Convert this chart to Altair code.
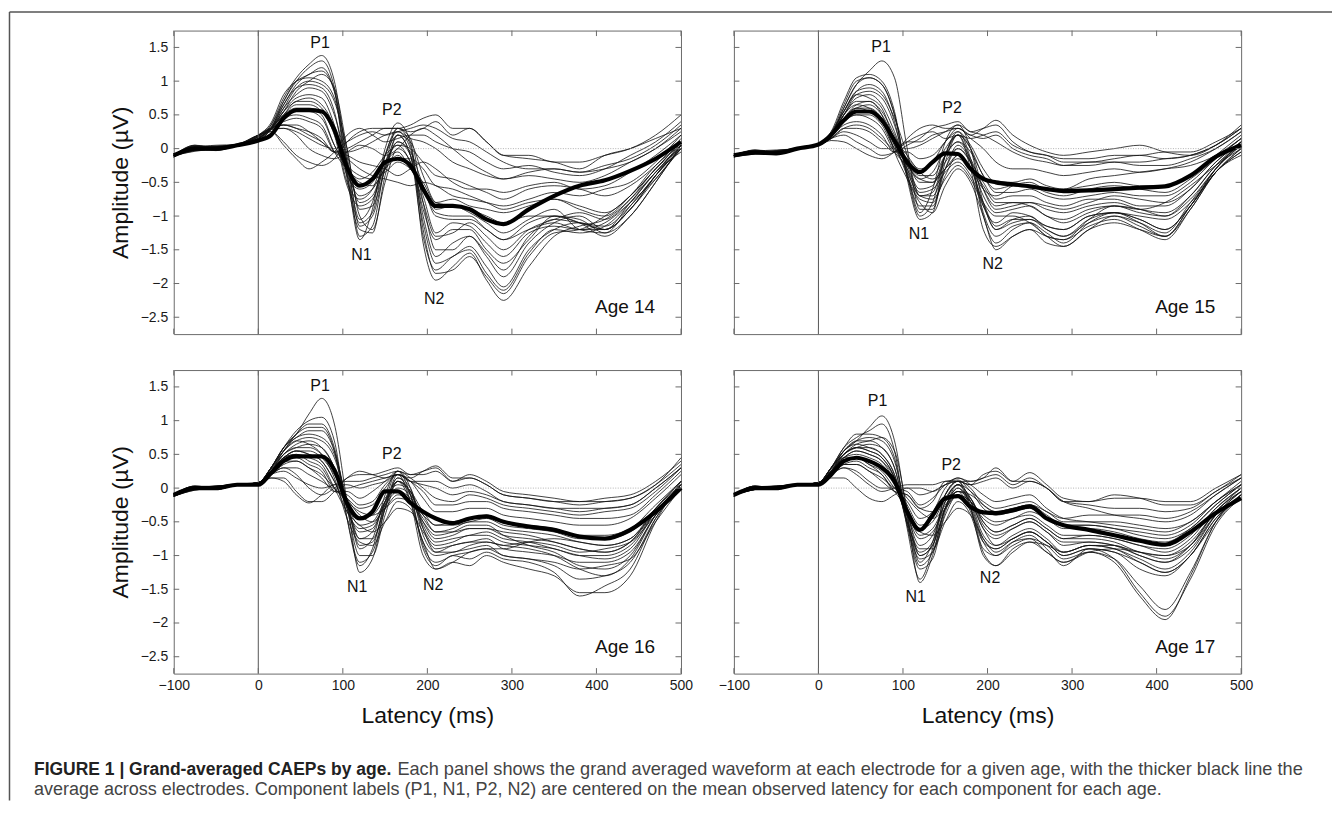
import altair as alt
import pandas as pd

# ---------------- data ----------------
latency_ms = [-100, -75, -50, -25, 0, 15, 30, 45, 60, 75, 90, 105, 120, 135, 150,
              165, 180, 195, 210, 230, 250, 270, 290, 320, 350, 380, 410, 440, 470, 500]

age14_electrodes = [
    [-0.12,0.03,-0.02,0.05,0.15,0.35,0.75,1.05,1.25,1.38,1.0,-0.2,-1.3,-1.15,-0.25,0.3,0.05,-1.4,-1.95,-1.75,-1.55,-1.95,-2.25,-1.75,-1.3,-1.15,-1.05,-0.75,-0.3,0.0],
    [-0.1,0.02,0.01,0.04,0.12,0.3,0.7,1.0,1.2,1.3,0.9,-0.35,-1.35,-0.9,0.0,0.38,0.1,-1.2,-1.85,-1.8,-1.6,-1.9,-2.15,-1.6,-1.25,-1.2,-1.0,-0.7,-0.25,0.05],
    [-0.08,-0.02,0.03,0.06,0.15,0.3,0.65,0.95,1.1,1.15,0.85,-0.1,-1.15,-1.0,-0.3,0.2,-0.1,-1.1,-1.7,-1.6,-1.45,-1.75,-2.05,-1.5,-1.2,-1.1,-1.2,-0.8,-0.35,-0.05],
    [-0.1,0.04,-0.01,0.05,0.18,0.35,0.7,1.0,1.05,1.0,0.75,-0.2,-1.05,-0.8,-0.1,0.3,0.15,-0.8,-1.5,-1.5,-1.3,-1.6,-1.9,-1.4,-1.1,-1.0,-1.2,-0.9,-0.4,0.1],
    [-0.12,0.0,0.02,0.05,0.12,0.3,0.6,0.9,1.0,0.95,0.7,0.0,-0.9,-0.85,-0.3,0.1,-0.1,-0.9,-1.35,-1.2,-1.2,-1.5,-1.7,-1.35,-1.0,-1.05,-1.25,-1.0,-0.5,0.05],
    [-0.1,0.05,0.0,0.05,0.15,0.3,0.6,0.8,0.9,0.85,0.5,-0.2,-0.8,-0.7,-0.2,0.05,-0.2,-0.7,-1.25,-1.1,-1.15,-1.4,-1.6,-1.25,-1.15,-1.2,-1.1,-0.8,-0.45,0.0],
    [-0.08,-0.03,-0.02,0.06,0.12,0.28,0.55,0.75,0.8,0.75,0.35,-0.35,-0.7,-0.6,-0.3,-0.1,-0.3,-0.6,-0.95,-1.0,-1.0,-1.2,-1.35,-1.1,-1.0,-1.1,-1.3,-1.0,-0.5,0.05],
    [-0.1,0.01,0.04,0.05,0.15,0.3,0.5,0.7,0.7,0.6,0.25,-0.4,-0.6,-0.5,-0.2,-0.05,-0.3,-0.55,-0.9,-0.85,-0.95,-1.1,-1.25,-1.05,-0.9,-1.2,-1.25,-0.85,-0.4,0.05],
    [-0.1,0.0,-0.03,0.05,0.15,0.3,0.5,0.6,0.6,0.5,0.05,-0.25,-0.4,-0.45,-0.35,-0.2,-0.3,-0.5,-0.8,-0.75,-0.85,-0.9,-0.95,-0.85,-0.75,-0.9,-1.0,-0.7,-0.3,0.1],
    [-0.12,0.03,0.0,0.05,0.18,0.3,0.4,0.45,0.4,0.3,-0.05,-0.15,-0.3,-0.4,-0.45,-0.5,-0.55,-0.5,-0.55,-0.7,-0.75,-0.8,-0.85,-0.75,-0.65,-0.7,-0.6,-0.5,-0.2,0.2],
    [-0.1,-0.02,0.02,0.05,0.2,0.3,0.35,0.3,0.2,0.1,-0.05,-0.1,-0.2,-0.25,-0.3,-0.4,-0.3,-0.2,-0.3,-0.5,-0.6,-0.6,-0.65,-0.55,-0.5,-0.6,-0.55,-0.35,-0.1,0.2],
    [-0.1,0.02,0.05,0.06,0.2,0.3,0.35,0.35,0.25,0.1,-0.05,0.0,0.1,0.2,0.3,0.3,0.35,0.45,0.5,0.3,0.3,0.1,-0.1,-0.15,-0.2,-0.3,-0.1,0.0,0.15,0.3],
    [-0.1,-0.04,0.0,0.05,0.2,0.25,0.1,-0.1,-0.2,-0.25,-0.15,0.1,0.25,0.3,0.3,0.3,0.25,0.3,0.4,0.2,0.3,0.1,-0.1,-0.1,-0.2,-0.2,-0.1,0.0,0.2,0.5],
    [-0.1,0.0,-0.02,0.05,0.2,0.25,0.05,-0.15,-0.3,-0.2,-0.05,0.2,0.3,0.2,0.1,0.15,0.2,0.2,0.1,0.0,-0.05,-0.2,-0.3,-0.25,-0.35,-0.4,-0.3,-0.1,0.1,0.4],
    [-0.1,0.04,0.02,0.05,0.18,0.28,0.3,0.2,0.0,-0.1,-0.15,-0.05,0.05,0.0,-0.1,0.0,0.2,0.3,0.2,0.0,-0.2,-0.35,-0.45,-0.4,-0.45,-0.5,-0.4,-0.2,0.0,0.3],
    [-0.12,-0.01,0.01,0.05,0.15,0.3,0.55,0.7,0.75,0.65,0.3,-0.5,-0.75,-0.6,-0.1,0.2,0.1,-0.4,-0.8,-0.85,-0.9,-1.0,-1.1,-1.0,-1.0,-1.1,-1.2,-0.9,-0.4,0.0],
    [-0.13,0.05,0.02,0.07,0.2,0.38,0.8,1.0,1.1,1.2,0.85,-0.45,-1.2,-1.25,-0.4,0.2,-0.1,-1.3,-1.8,-1.6,-1.5,-1.85,-2.1,-1.55,-1.2,-1.25,-1.15,-0.8,-0.35,0.05],
    [-0.09,0.0,-0.01,0.04,0.13,0.32,0.65,0.9,0.95,0.9,0.55,-0.4,-1.1,-0.95,-0.1,0.25,0.0,-1.0,-1.6,-1.4,-1.3,-1.55,-1.8,-1.3,-1.05,-1.1,-1.15,-0.85,-0.4,0.0],
    [-0.11,-0.03,0.02,0.05,0.16,0.3,0.55,0.85,1.0,1.1,0.9,0.0,-1.0,-1.2,-0.5,0.0,-0.2,-0.8,-1.3,-1.25,-1.1,-1.3,-1.5,-1.2,-1.05,-0.95,-1.05,-0.75,-0.35,0.05],
    [-0.1,0.02,-0.02,0.05,0.14,0.3,0.5,0.65,0.65,0.55,0.2,-0.55,-0.85,-0.75,-0.25,0.1,-0.05,-0.55,-1.0,-1.05,-1.05,-1.2,-1.35,-1.2,-1.1,-1.2,-1.2,-0.9,-0.45,0.0],
    [-0.12,0.01,0.03,0.05,0.17,0.28,0.45,0.5,0.45,0.35,-0.05,-0.3,-0.45,-0.35,-0.1,0.05,0.0,-0.2,-0.4,-0.45,-0.55,-0.65,-0.75,-0.6,-0.55,-0.6,-0.7,-0.55,-0.25,0.15],
    [-0.1,-0.02,0.0,0.06,0.2,0.3,0.3,0.25,0.15,0.05,0.0,0.1,0.2,0.25,0.2,0.25,0.3,0.35,0.3,0.15,0.1,-0.05,-0.2,-0.3,-0.3,-0.35,-0.25,-0.15,0.05,0.35],
    [-0.1,0.03,0.01,0.05,0.15,0.3,0.45,0.55,0.55,0.45,0.05,-0.3,-0.5,-0.55,-0.3,-0.15,-0.15,-0.3,-0.55,-0.6,-0.7,-0.8,-0.9,-0.8,-0.75,-0.85,-0.95,-0.7,-0.3,0.1],
    [-0.1,0.0,0.03,0.05,0.18,0.3,0.35,0.3,0.25,0.15,-0.05,-0.05,0.0,0.1,0.2,0.25,0.15,0.1,0.0,-0.2,-0.3,-0.4,-0.45,-0.35,-0.3,-0.35,-0.3,-0.2,0.0,0.25],
]
age14_mean = [-0.1,0.0,0.0,0.05,0.12,0.2,0.45,0.57,0.57,0.55,0.28,-0.28,-0.55,-0.45,-0.2,-0.15,-0.25,-0.6,-0.85,-0.85,-0.9,-1.05,-1.12,-0.9,-0.7,-0.55,-0.47,-0.33,-0.15,0.1]

age15_electrodes = [
    [-0.1,-0.03,-0.08,0.0,0.05,0.2,0.6,0.95,1.15,1.3,1.05,0.0,-0.9,-0.9,-0.1,0.2,-0.3,-1.2,-1.45,-1.3,-1.2,-1.4,-1.45,-1.2,-1.0,-1.1,-1.25,-0.8,-0.3,0.1],
    [-0.12,-0.07,-0.04,0.0,0.06,0.25,0.7,1.05,1.1,1.0,0.55,-0.45,-1.05,-0.95,-0.2,0.2,-0.2,-1.0,-1.4,-1.2,-1.1,-1.3,-1.35,-1.15,-1.05,-1.2,-1.35,-0.9,-0.35,0.0],
    [-0.1,-0.04,-0.07,0.0,0.05,0.2,0.6,0.95,1.05,0.95,0.5,-0.35,-0.95,-0.6,0.1,0.35,0.0,-0.8,-1.2,-1.05,-1.0,-1.2,-1.3,-1.05,-0.95,-1.1,-1.3,-0.85,-0.3,0.1],
    [-0.08,-0.06,-0.03,0.0,0.05,0.25,0.55,0.85,0.95,0.85,0.4,-0.4,-0.85,-0.85,-0.3,0.05,-0.2,-0.85,-1.1,-0.95,-1.0,-1.15,-1.2,-1.0,-0.95,-1.0,-1.05,-0.8,-0.35,0.0],
    [-0.1,-0.03,-0.06,0.0,0.05,0.2,0.5,0.8,0.85,0.75,0.35,-0.3,-0.7,-0.7,-0.3,0.0,-0.2,-0.7,-0.95,-0.9,-0.85,-1.0,-1.05,-0.9,-0.85,-0.95,-1.0,-0.75,-0.3,0.05],
    [-0.12,-0.08,-0.05,0.0,0.06,0.2,0.5,0.75,0.8,0.65,0.25,-0.25,-0.6,-0.55,-0.1,0.1,-0.15,-0.6,-0.85,-0.8,-0.8,-0.9,-0.95,-0.85,-0.8,-0.9,-0.95,-0.7,-0.25,0.1],
    [-0.1,-0.05,-0.08,0.0,0.05,0.2,0.45,0.65,0.7,0.55,0.2,-0.2,-0.5,-0.5,-0.2,0.0,-0.2,-0.5,-0.75,-0.7,-0.7,-0.8,-0.85,-0.75,-0.75,-0.85,-0.85,-0.6,-0.2,0.1],
    [-0.1,-0.02,-0.04,0.0,0.05,0.2,0.45,0.6,0.6,0.45,0.1,-0.2,-0.4,-0.4,-0.1,0.1,-0.05,-0.4,-0.65,-0.65,-0.6,-0.7,-0.75,-0.7,-0.65,-0.7,-0.7,-0.5,-0.15,0.15],
    [-0.1,-0.06,-0.06,0.0,0.05,0.18,0.4,0.5,0.5,0.35,0.0,-0.15,-0.3,-0.2,0.1,0.25,0.05,-0.3,-0.5,-0.5,-0.45,-0.55,-0.6,-0.55,-0.5,-0.55,-0.55,-0.4,-0.1,0.2],
    [-0.1,-0.04,-0.02,0.0,0.05,0.18,0.35,0.4,0.35,0.2,-0.05,-0.05,-0.15,-0.1,0.1,0.3,0.15,0.0,-0.2,-0.3,-0.3,-0.35,-0.4,-0.35,-0.3,-0.35,-0.3,-0.2,0.0,0.25],
    [-0.12,-0.05,-0.07,0.0,0.05,0.15,0.3,0.3,0.25,0.1,-0.05,0.05,0.15,0.3,0.35,0.4,0.25,0.3,0.35,0.1,-0.05,-0.1,-0.15,-0.15,-0.1,-0.1,-0.05,-0.05,0.1,0.3],
    [-0.1,-0.07,-0.03,0.0,0.05,0.15,0.2,0.1,0.0,-0.1,-0.05,0.15,0.3,0.35,0.3,0.3,0.2,0.3,0.42,0.2,0.05,-0.05,-0.1,-0.05,0.0,0.05,-0.05,-0.1,0.05,0.35],
    [-0.1,-0.03,-0.05,0.0,0.05,0.12,0.1,0.0,-0.1,-0.15,-0.05,0.1,0.2,0.25,0.15,0.2,0.15,0.2,0.25,0.05,-0.05,-0.1,-0.2,-0.2,-0.15,-0.1,-0.15,-0.1,0.05,0.3],
    [-0.1,-0.06,-0.04,0.0,0.05,0.2,0.4,0.55,0.55,0.4,0.0,-0.3,-0.65,-0.6,-0.35,-0.2,-0.4,-0.8,-1.0,-1.0,-1.1,-1.3,-1.45,-1.2,-1.1,-1.2,-1.3,-0.9,-0.35,-0.1],
    [-0.12,-0.04,-0.06,0.0,0.06,0.2,0.5,0.7,0.7,0.5,-0.05,-0.45,-0.8,-0.95,-0.55,-0.3,-0.5,-1.0,-1.5,-1.3,-1.2,-1.3,-1.35,-1.05,-0.85,-0.9,-0.8,-0.55,-0.25,0.0],
    [-0.1,-0.05,-0.05,0.0,0.05,0.2,0.45,0.6,0.65,0.5,0.15,-0.1,-0.35,-0.45,-0.3,-0.1,-0.3,-0.6,-0.7,-0.55,-0.5,-0.6,-0.6,-0.45,-0.4,-0.35,-0.3,-0.25,-0.1,0.15],
    [-0.13,-0.02,-0.07,0.0,0.05,0.22,0.65,1.0,1.05,0.95,0.5,-0.4,-1.0,-0.8,-0.1,0.25,-0.15,-0.95,-1.3,-1.15,-1.1,-1.25,-1.4,-1.1,-0.95,-1.05,-1.2,-0.85,-0.3,0.05],
    [-0.1,-0.06,-0.04,0.01,0.06,0.22,0.55,0.8,0.75,0.6,0.1,-0.4,-0.75,-0.8,-0.4,-0.1,-0.3,-0.8,-1.15,-1.05,-1.05,-1.2,-1.3,-1.1,-1.0,-1.15,-1.3,-0.85,-0.35,-0.05],
    [-0.1,-0.05,-0.06,0.0,0.05,0.2,0.45,0.6,0.55,0.4,0.05,-0.25,-0.45,-0.35,0.0,0.2,0.0,-0.4,-0.6,-0.55,-0.55,-0.65,-0.7,-0.6,-0.55,-0.6,-0.65,-0.45,-0.15,0.15],
    [-0.11,-0.04,-0.05,0.0,0.05,0.15,0.3,0.35,0.3,0.15,0.0,0.0,0.05,0.15,0.25,0.35,0.25,0.2,0.1,-0.05,-0.15,-0.2,-0.25,-0.2,-0.2,-0.2,-0.15,-0.1,0.05,0.3],
    [-0.1,-0.07,-0.05,0.0,0.05,0.18,0.4,0.5,0.45,0.3,-0.05,-0.25,-0.45,-0.5,-0.3,-0.15,-0.3,-0.55,-0.8,-0.8,-0.85,-1.0,-1.1,-0.95,-0.85,-0.9,-1.0,-0.7,-0.25,0.05],
    [-0.1,-0.03,-0.06,0.0,0.05,0.2,0.55,0.85,0.9,0.8,0.45,-0.1,-0.7,-0.65,-0.1,0.2,0.0,-0.6,-0.9,-0.85,-0.8,-0.85,-0.9,-0.8,-0.7,-0.75,-0.8,-0.6,-0.2,0.1],
    [-0.12,-0.06,-0.04,0.0,0.05,0.15,0.25,0.2,0.1,0.0,0.0,0.1,0.1,0.2,0.25,0.3,0.2,0.15,0.2,0.0,-0.1,-0.15,-0.25,-0.25,-0.2,-0.25,-0.25,-0.15,0.0,0.25],
    [-0.1,-0.04,-0.07,0.0,0.05,0.2,0.5,0.65,0.6,0.45,0.05,-0.35,-0.7,-0.75,-0.45,-0.25,-0.45,-0.85,-1.2,-1.1,-1.05,-1.15,-1.2,-1.0,-0.95,-1.05,-1.2,-0.85,-0.35,-0.05],
]
age15_mean = [-0.1,-0.06,-0.07,0.0,0.06,0.2,0.42,0.55,0.55,0.42,0.12,-0.2,-0.35,-0.2,-0.07,-0.08,-0.3,-0.45,-0.5,-0.53,-0.56,-0.6,-0.63,-0.62,-0.6,-0.58,-0.56,-0.4,-0.12,0.05]

age16_electrodes = [
    [-0.12,0.02,-0.02,0.05,0.08,0.3,0.6,0.8,1.1,1.33,0.95,-0.2,-1.25,-1.05,-0.3,0.2,-0.2,-1.0,-1.2,-1.1,-1.15,-1.0,-1.1,-1.2,-1.3,-1.55,-1.55,-1.3,-0.5,0.1],
    [-0.1,-0.01,0.02,0.06,0.08,0.3,0.6,0.85,1.0,1.05,0.7,-0.45,-1.15,-0.9,-0.2,0.25,-0.1,-0.9,-1.15,-1.0,-1.05,-0.95,-1.05,-1.1,-1.25,-1.6,-1.45,-1.2,-0.45,0.05],
    [-0.12,0.03,0.0,0.05,0.06,0.25,0.55,0.8,0.95,0.95,0.6,-0.3,-1.0,-1.0,-0.4,0.1,-0.2,-0.8,-1.0,-0.95,-0.9,-0.85,-1.0,-1.05,-1.1,-1.2,-1.15,-1.05,-0.5,0.0],
    [-0.1,0.0,0.03,0.05,0.08,0.3,0.6,0.75,0.85,0.85,0.55,-0.2,-0.9,-0.75,-0.1,0.25,0.0,-0.7,-0.95,-0.85,-0.8,-0.75,-0.9,-0.95,-1.0,-1.1,-1.1,-0.95,-0.4,0.05],
    [-0.12,-0.02,0.01,0.05,0.06,0.3,0.55,0.7,0.75,0.7,0.45,-0.2,-0.75,-0.75,-0.3,0.1,-0.1,-0.6,-0.85,-0.8,-0.7,-0.7,-0.8,-0.85,-0.9,-1.0,-1.0,-0.85,-0.35,0.05],
    [-0.1,0.02,-0.01,0.05,0.08,0.25,0.5,0.65,0.7,0.6,0.3,-0.3,-0.65,-0.6,-0.2,0.1,-0.05,-0.5,-0.75,-0.7,-0.6,-0.6,-0.7,-0.75,-0.8,-0.9,-0.95,-0.8,-0.3,0.1],
    [-0.1,0.0,0.02,0.05,0.06,0.25,0.5,0.6,0.6,0.5,0.25,-0.25,-0.55,-0.5,-0.2,0.0,-0.1,-0.4,-0.65,-0.6,-0.5,-0.5,-0.6,-0.65,-0.7,-0.8,-0.85,-0.75,-0.3,0.05],
    [-0.12,-0.03,0.0,0.05,0.08,0.25,0.45,0.55,0.5,0.4,0.1,-0.25,-0.45,-0.4,-0.15,0.05,-0.05,-0.35,-0.55,-0.5,-0.45,-0.4,-0.5,-0.55,-0.6,-0.7,-0.7,-0.6,-0.25,0.1],
    [-0.1,0.02,0.03,0.05,0.06,0.25,0.45,0.5,0.4,0.3,0.0,-0.15,-0.3,-0.25,0.0,0.2,0.1,-0.15,-0.35,-0.35,-0.3,-0.3,-0.4,-0.45,-0.5,-0.55,-0.55,-0.45,-0.15,0.2],
    [-0.1,0.01,-0.02,0.05,0.08,0.2,0.35,0.4,0.3,0.15,-0.05,-0.05,-0.15,-0.05,0.1,0.25,0.15,0.0,-0.15,-0.2,-0.1,-0.15,-0.25,-0.3,-0.35,-0.4,-0.35,-0.3,-0.05,0.3],
    [-0.12,-0.02,0.01,0.05,0.08,0.2,0.3,0.2,0.0,-0.1,0.0,0.15,0.2,0.2,0.25,0.3,0.2,0.25,0.3,0.1,0.2,0.1,-0.05,-0.1,-0.15,-0.2,-0.15,-0.1,0.1,0.4],
    [-0.1,0.03,0.02,0.05,0.06,0.15,0.15,-0.05,-0.2,-0.2,-0.05,0.15,0.25,0.2,0.15,0.2,0.15,0.25,0.33,0.15,0.15,0.05,-0.1,-0.15,-0.2,-0.25,-0.2,-0.15,0.05,0.45],
    [-0.1,0.0,-0.02,0.05,0.08,0.15,0.1,-0.1,-0.22,-0.1,0.05,0.05,0.0,0.05,0.1,0.2,0.1,0.1,0.1,0.0,0.05,-0.05,-0.2,-0.25,-0.3,-0.3,-0.3,-0.25,0.0,0.3],
    [-0.12,-0.01,0.02,0.05,0.06,0.25,0.45,0.5,0.45,0.35,0.0,-0.35,-0.55,-0.65,-0.5,-0.3,-0.35,-0.65,-0.9,-0.85,-0.8,-0.8,-0.85,-0.8,-0.85,-0.95,-0.9,-0.8,-0.4,0.0],
    [-0.1,0.02,0.0,0.05,0.08,0.3,0.55,0.7,0.65,0.5,0.15,-0.45,-0.8,-0.85,-0.5,-0.2,-0.3,-0.8,-1.2,-1.1,-0.95,-0.9,-0.9,-0.8,-0.75,-0.8,-0.85,-0.75,-0.35,0.0],
    [-0.1,-0.02,0.03,0.05,0.06,0.25,0.45,0.55,0.55,0.45,0.2,-0.15,-0.4,-0.5,-0.3,-0.1,-0.2,-0.5,-0.7,-0.65,-0.55,-0.55,-0.7,-0.85,-0.95,-1.15,-1.2,-1.0,-0.4,0.0],
    [-0.12,0.01,-0.01,0.05,0.08,0.3,0.6,0.8,0.9,0.9,0.55,-0.45,-1.1,-0.95,-0.3,0.15,-0.1,-0.85,-1.1,-1.0,-0.95,-0.9,-1.0,-1.05,-1.15,-1.35,-1.3,-1.1,-0.45,0.05],
    [-0.1,0.03,0.01,0.05,0.07,0.28,0.5,0.6,0.65,0.6,0.3,-0.3,-0.75,-0.65,-0.2,0.1,-0.05,-0.55,-0.8,-0.75,-0.7,-0.65,-0.75,-0.8,-0.9,-1.0,-1.05,-0.9,-0.35,0.05],
    [-0.12,-0.01,0.02,0.05,0.08,0.22,0.4,0.45,0.35,0.25,-0.05,-0.1,-0.25,-0.2,0.05,0.2,0.1,-0.05,-0.25,-0.25,-0.2,-0.2,-0.3,-0.35,-0.4,-0.45,-0.45,-0.4,-0.1,0.25],
    [-0.1,0.02,-0.02,0.05,0.07,0.2,0.25,0.15,0.05,0.0,0.05,0.1,0.1,0.15,0.2,0.25,0.2,0.2,0.25,0.1,0.15,0.05,-0.1,-0.15,-0.2,-0.2,-0.2,-0.15,0.05,0.35],
    [-0.1,0.0,0.03,0.05,0.08,0.25,0.45,0.55,0.5,0.4,0.1,-0.35,-0.6,-0.55,-0.25,-0.05,-0.15,-0.45,-0.65,-0.65,-0.6,-0.6,-0.65,-0.7,-0.8,-0.9,-0.95,-0.8,-0.35,0.05],
    [-0.12,-0.03,0.0,0.05,0.06,0.28,0.55,0.75,0.8,0.75,0.5,-0.2,-0.85,-0.8,-0.25,0.15,0.0,-0.6,-0.95,-0.95,-0.85,-0.8,-0.85,-0.9,-1.0,-1.2,-1.3,-1.05,-0.4,0.05],
    [-0.1,0.02,0.01,0.05,0.08,0.25,0.4,0.4,0.3,0.2,0.0,-0.2,-0.35,-0.4,-0.3,-0.15,-0.2,-0.4,-0.55,-0.55,-0.5,-0.45,-0.55,-0.6,-0.65,-0.75,-0.75,-0.65,-0.3,0.1],
    [-0.1,0.0,-0.01,0.05,0.06,0.2,0.3,0.3,0.2,0.1,0.0,0.0,0.05,0.1,0.15,0.2,0.1,0.05,0.0,-0.1,-0.05,-0.1,-0.2,-0.25,-0.3,-0.35,-0.3,-0.25,0.0,0.3],
]
age16_mean = [-0.1,0.0,0.0,0.05,0.05,0.22,0.4,0.47,0.47,0.47,0.27,-0.22,-0.45,-0.35,-0.05,-0.05,-0.22,-0.35,-0.45,-0.52,-0.45,-0.42,-0.5,-0.57,-0.62,-0.72,-0.75,-0.62,-0.35,0.0]

age17_electrodes = [
    [-0.12,0.02,-0.01,0.05,0.08,0.3,0.55,0.7,0.9,1.07,0.7,-0.4,-1.4,-1.0,-0.3,0.0,-0.3,-0.9,-1.0,-0.8,-0.7,-0.9,-1.15,-0.9,-0.95,-1.2,-1.3,-1.0,-0.5,-0.1],
    [-0.1,-0.01,0.03,0.05,0.08,0.3,0.6,0.75,0.85,0.95,0.55,-0.6,-1.35,-0.9,-0.1,0.1,-0.3,-1.0,-1.15,-0.9,-0.8,-0.95,-1.1,-0.95,-1.1,-1.6,-1.95,-1.3,-0.5,-0.1],
    [-0.12,0.03,0.0,0.05,0.08,0.3,0.6,0.8,0.8,0.75,0.45,-0.55,-1.2,-1.05,-0.35,-0.05,-0.35,-0.8,-0.9,-0.75,-0.65,-0.8,-1.0,-0.9,-1.05,-1.55,-1.9,-1.35,-0.55,-0.15],
    [-0.1,0.0,0.02,0.05,0.06,0.25,0.55,0.7,0.75,0.7,0.4,-0.4,-1.1,-0.8,-0.1,0.1,-0.2,-0.7,-0.85,-0.7,-0.6,-0.75,-0.95,-0.85,-0.9,-1.05,-1.2,-0.95,-0.4,-0.05],
    [-0.1,-0.02,0.01,0.05,0.08,0.3,0.5,0.6,0.65,0.6,0.3,-0.45,-1.0,-0.85,-0.3,0.0,-0.2,-0.6,-0.75,-0.6,-0.5,-0.65,-0.85,-0.8,-0.85,-1.0,-1.1,-0.85,-0.35,-0.05],
    [-0.12,0.03,-0.02,0.05,0.06,0.25,0.5,0.6,0.6,0.5,0.2,-0.4,-0.85,-0.7,-0.2,0.05,-0.15,-0.5,-0.65,-0.55,-0.45,-0.6,-0.75,-0.75,-0.8,-0.95,-1.0,-0.8,-0.35,0.0],
    [-0.1,0.01,0.03,0.05,0.08,0.25,0.45,0.55,0.5,0.4,0.15,-0.4,-0.75,-0.65,-0.3,-0.1,-0.2,-0.45,-0.55,-0.45,-0.4,-0.55,-0.7,-0.7,-0.75,-0.85,-0.9,-0.7,-0.3,0.0],
    [-0.1,-0.02,0.0,0.05,0.06,0.25,0.45,0.5,0.45,0.35,0.1,-0.3,-0.6,-0.5,-0.15,0.05,-0.05,-0.3,-0.4,-0.35,-0.3,-0.45,-0.6,-0.6,-0.65,-0.75,-0.8,-0.6,-0.25,0.05],
    [-0.12,0.02,0.02,0.05,0.08,0.2,0.4,0.45,0.35,0.25,0.0,-0.2,-0.45,-0.35,0.0,0.15,0.05,-0.1,-0.2,-0.15,-0.1,-0.3,-0.45,-0.5,-0.55,-0.6,-0.65,-0.5,-0.2,0.1],
    [-0.1,0.0,-0.01,0.05,0.06,0.2,0.35,0.35,0.25,0.15,0.0,-0.05,-0.25,-0.15,0.05,0.15,0.1,0.15,0.3,0.1,0.1,0.0,-0.2,-0.3,-0.4,-0.45,-0.5,-0.4,-0.1,0.15],
    [-0.1,-0.01,0.02,0.05,0.08,0.2,0.3,0.2,0.05,-0.05,0.0,0.05,0.05,0.05,0.1,0.1,0.05,0.2,0.25,0.1,0.23,0.05,-0.15,-0.2,-0.15,-0.15,-0.2,-0.2,0.0,0.2],
    [-0.12,0.02,0.0,0.05,0.06,0.15,0.15,0.0,-0.15,-0.2,-0.1,0.0,0.0,-0.05,0.05,0.1,0.05,0.1,0.15,0.0,0.1,0.0,-0.2,-0.2,-0.1,-0.15,-0.25,-0.25,-0.05,0.2],
    [-0.1,0.0,0.03,0.05,0.08,0.25,0.45,0.45,0.35,0.2,-0.05,-0.3,-0.65,-0.7,-0.5,-0.3,-0.4,-0.75,-0.95,-0.8,-0.75,-0.95,-1.1,-0.95,-0.9,-0.95,-1.0,-0.85,-0.4,-0.1],
    [-0.1,-0.02,0.01,0.05,0.06,0.3,0.5,0.6,0.55,0.45,0.15,-0.5,-0.9,-0.9,-0.5,-0.2,-0.4,-0.95,-1.15,-0.95,-0.8,-0.85,-0.95,-0.85,-0.9,-1.1,-1.25,-1.0,-0.45,-0.15],
    [-0.12,0.03,-0.01,0.05,0.08,0.25,0.4,0.45,0.4,0.3,0.1,-0.15,-0.35,-0.45,-0.3,-0.1,-0.2,-0.4,-0.5,-0.45,-0.35,-0.45,-0.55,-0.55,-0.6,-0.65,-0.7,-0.55,-0.2,0.05],
    [-0.1,0.01,0.02,0.05,0.06,0.2,0.35,0.4,0.3,0.2,-0.05,-0.1,-0.3,-0.2,0.1,0.12,-0.05,-0.2,-0.3,-0.25,-0.2,-0.35,-0.45,-0.4,-0.4,-0.4,-0.45,-0.35,-0.1,0.15],
    [-0.12,-0.01,0.0,0.05,0.08,0.3,0.55,0.7,0.7,0.6,0.3,-0.5,-1.15,-0.95,-0.3,0.05,-0.25,-0.75,-0.9,-0.75,-0.65,-0.8,-1.0,-0.9,-0.95,-1.1,-1.25,-1.0,-0.45,-0.1],
    [-0.1,0.02,0.03,0.05,0.07,0.28,0.5,0.6,0.55,0.45,0.15,-0.5,-0.95,-0.8,-0.2,0.05,-0.15,-0.55,-0.7,-0.6,-0.5,-0.65,-0.8,-0.8,-0.85,-0.95,-1.05,-0.85,-0.35,-0.05],
    [-0.12,0.0,-0.02,0.05,0.08,0.22,0.4,0.45,0.4,0.3,0.05,-0.25,-0.55,-0.45,-0.1,0.1,0.0,-0.25,-0.35,-0.3,-0.25,-0.4,-0.55,-0.55,-0.6,-0.7,-0.75,-0.6,-0.25,0.05],
    [-0.1,0.03,0.01,0.05,0.07,0.2,0.3,0.25,0.1,0.0,0.0,0.0,-0.1,-0.05,0.05,0.1,0.1,0.15,0.2,0.05,0.15,0.0,-0.2,-0.25,-0.3,-0.3,-0.35,-0.3,-0.05,0.15],
    [-0.1,-0.02,0.02,0.05,0.08,0.3,0.55,0.65,0.6,0.5,0.2,-0.55,-1.05,-0.95,-0.4,-0.1,-0.3,-0.8,-1.0,-0.85,-0.75,-0.85,-1.05,-0.95,-1.05,-1.45,-1.8,-1.25,-0.5,-0.1],
    [-0.12,0.01,-0.01,0.05,0.06,0.25,0.45,0.55,0.5,0.4,0.1,-0.35,-0.7,-0.6,-0.25,-0.05,-0.15,-0.5,-0.65,-0.55,-0.45,-0.6,-0.75,-0.7,-0.75,-0.85,-0.95,-0.75,-0.3,0.0],
    [-0.1,0.0,0.02,0.05,0.08,0.2,0.35,0.35,0.25,0.1,-0.05,-0.1,-0.3,-0.35,-0.2,-0.05,-0.1,-0.25,-0.35,-0.3,-0.25,-0.35,-0.5,-0.5,-0.5,-0.55,-0.6,-0.5,-0.2,0.05],
    [-0.1,0.02,0.0,0.05,0.06,0.25,0.5,0.65,0.7,0.75,0.55,-0.3,-1.0,-0.85,-0.3,-0.05,-0.2,-0.6,-0.85,-0.75,-0.65,-0.8,-0.95,-0.85,-0.85,-1.0,-1.1,-0.9,-0.4,-0.05],
]
age17_mean = [-0.1,0.0,0.0,0.05,0.05,0.2,0.4,0.45,0.4,0.3,0.1,-0.35,-0.62,-0.4,-0.15,-0.12,-0.28,-0.36,-0.37,-0.33,-0.27,-0.45,-0.55,-0.62,-0.7,-0.78,-0.84,-0.65,-0.37,-0.15]

components = ["P1", "N1", "P2", "N2"]
age14_comp_latency = [73, 122, 158, 208]
age14_comp_amp = [1.57, -1.58, 0.57, -2.23]
age15_comp_latency = [74, 119, 158, 206]
age15_comp_amp = [1.51, -1.26, 0.60, -1.71]
age16_comp_latency = [73, 117, 158, 207]
age16_comp_amp = [1.52, -1.47, 0.50, -1.44]
age17_comp_latency = [70, 115, 157, 203]
age17_comp_amp = [1.29, -1.61, 0.34, -1.33]

x_tick_values = [-100, 0, 100, 200, 300, 400, 500]
y_tick_values = [-2.5, -2, -1.5, -1, -0.5, 0, 0.5, 1, 1.5]

caption_bold = "FIGURE 1 | Grand-averaged CAEPs by age."
caption_line1 = ("Each panel shows the grand averaged waveform at each electrode for a given age, "
                 "with the thicker black line the")
caption_line2 = ("average across electrodes. Component labels (P1, N1, P2, N2) are centered on the "
                 "mean observed latency for each component for each age.")

# ---------------- chart ----------------
FONT = "Liberation Sans"
W, H = 508, 304
XD = [-100, 500]
YD = [-2.75, 1.75]
TICK = 5.5
FRAME = "#6a6a6a"


def make_panel(age, elecs, mean, comp_lat, comp_amp, left, bottom, extras=()):
    for s in elecs + [mean]:
        assert len(s) == len(latency_ms)
    rows = []
    for i, series in enumerate(elecs):
        for t, v in zip(latency_ms, series):
            rows.append({"electrode": i, "t": t, "v": v})
    edf = pd.DataFrame(rows)
    mdf = pd.DataFrame({"t": latency_ms, "v": mean})
    cdf = pd.DataFrame({"t": comp_lat, "v": comp_amp, "label": components})
    xt = pd.DataFrame({"t": x_tick_values})
    yt = pd.DataFrame({"v": y_tick_values})
    adf = pd.DataFrame({"label": [f"Age {age}"]})
    # zero reference: y = 0 from stimulus onset to the end of the epoch
    zdf = pd.DataFrame({"t": [0], "t2": [XD[1]], "v": [0]})

    if bottom:
        xaxis = alt.Axis(values=x_tick_values, format="d", ticks=False, domain=False, grid=False,
                         labelFlush=False, labelFont=FONT, labelFontSize=14, labelColor="#1a1a1a",
                         labelPadding=5, title="Latency (ms)", titleFont=FONT, titleFontSize=23,
                         titleFontWeight="normal", titleColor="#111", titlePadding=12)
    else:
        xaxis = None
    if left:
        yaxis = alt.Axis(values=y_tick_values, format="~g", ticks=False, domain=False, grid=False,
                         labelFlush=False, labelFont=FONT, labelFontSize=14, labelColor="#1a1a1a",
                         labelPadding=6, title="Amplitude (\u00b5V)", titleFont=FONT,
                         titleFontSize=23, titleFontWeight="normal", titleColor="#111",
                         titlePadding=8)
    else:
        yaxis = None

    X = alt.X("t:Q", scale=alt.Scale(domain=XD, nice=False, zero=False), axis=xaxis)
    Y = alt.Y("v:Q", scale=alt.Scale(domain=YD, nice=False, zero=False), axis=yaxis)

    layers = [
        alt.Chart(edf).mark_line(color="#111", strokeWidth=0.8, interpolate="monotone")
        .encode(x=X, y=Y, detail="electrode:N"),
        alt.Chart(zdf).mark_rule(color="#a0a0a0", strokeWidth=0.8, strokeDash=[1, 1.5])
        .encode(x=X, x2=alt.X2("t2"), y=Y),
        alt.Chart(zdf).mark_rule(color="#555", strokeWidth=1).encode(x=X),
        alt.Chart(mdf).mark_line(color="#000", strokeWidth=4.2, interpolate="monotone")
        .encode(x=X, y=Y),
        alt.Chart(cdf).mark_text(font=FONT, fontSize=16, color="#111")
        .encode(x=X, y=Y, text="label:N"),
        alt.Chart(adf).mark_text(font=FONT, fontSize=19, color="#111")
        .encode(x=alt.value(452), y=alt.value(277), text="label:N"),
        alt.Chart(xt).mark_rule(color=FRAME, strokeWidth=1)
        .encode(x=X, y=alt.value(H - TICK), y2=alt.value(H)),
        alt.Chart(xt).mark_rule(color=FRAME, strokeWidth=1)
        .encode(x=X, y=alt.value(0), y2=alt.value(TICK)),
        alt.Chart(yt).mark_rule(color=FRAME, strokeWidth=1)
        .encode(y=Y, x=alt.value(0), x2=alt.value(TICK)),
        alt.Chart(yt).mark_rule(color=FRAME, strokeWidth=1)
        .encode(y=Y, x=alt.value(W - TICK), x2=alt.value(W)),
    ]
    layers.extend(extras)
    return alt.layer(*layers).properties(width=W, height=H)


one = pd.DataFrame({"k": [0]})
border = [
    alt.Chart(one).mark_rule(color="#555", strokeWidth=1.5)
    .encode(x=alt.value(-164.5), y=alt.value(-18.5), y2=alt.value(771)),
    alt.Chart(one).mark_rule(color="#555", strokeWidth=1.5)
    .encode(x=alt.value(-164.5), x2=alt.value(1160), y=alt.value(-18.5)),
]
cap = pd.DataFrame({"b": [caption_bold], "l1": [caption_line1], "l2": [caption_line2]})
caption = [
    alt.Chart(cap).mark_text(font=FONT, fontSize=17.5, fontWeight="bold", color="#222",
                             align="left", baseline="middle")
    .encode(x=alt.value(-140), y=alt.value(401), text="b:N"),
    alt.Chart(cap).mark_text(font=FONT, fontSize=18.2, color="#444", align="left", baseline="middle")
    .encode(x=alt.value(224), y=alt.value(401), text="l1:N"),
    alt.Chart(cap).mark_text(font=FONT, fontSize=18, color="#444", align="left", baseline="middle")
    .encode(x=alt.value(-140), y=alt.value(421), text="l2:N"),
]

p14 = make_panel(14, age14_electrodes, age14_mean, age14_comp_latency, age14_comp_amp, True, False, border)
p15 = make_panel(15, age15_electrodes, age15_mean, age15_comp_latency, age15_comp_amp, False, False)
p16 = make_panel(16, age16_electrodes, age16_mean, age16_comp_latency, age16_comp_amp, True, True, caption)
p17 = make_panel(17, age17_electrodes, age17_mean, age17_comp_latency, age17_comp_amp, False, True)

chart = alt.concat(p14, p15, p16, p17, columns=2, spacing={"row": 36, "column": 53},
                   bounds="flush").properties(
    padding={"left": 0, "top": 2, "right": 0, "bottom": 0},
    background="white",
).configure_view(stroke=FRAME, strokeWidth=1)

chart.save("out.html", embed_options={"renderer": "svg", "actions": False})
